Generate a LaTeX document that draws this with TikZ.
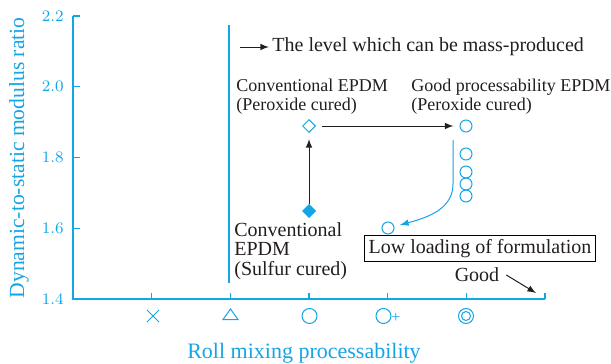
\documentclass[tikz,border=0pt]{standalone}
\usepackage{fontspec}
\setmainfont{Liberation Serif}
\usepackage{xcolor}
\usetikzlibrary{shapes.geometric, arrows.meta, positioning, calc}
\definecolor{azzurro}{RGB}{20,165,230}
\definecolor{testo}{RGB}{35,30,30}

\begin{document}
\begin{tikzpicture}[x=0.5pt, y=-0.5pt, font=\fontsize{10}{9.8}\selectfont, text=testo,
    cerchio/.style={circle, draw=azzurro, line width=0.5pt, minimum size=6pt, inner sep=0pt},
    rombo/.style={diamond, draw=azzurro, line width=0.5pt, minimum size=6.5pt, inner sep=0pt},
    asse/.style={azzurro, line width=0.6pt},
    freccia/.style={-latex, line width=0.5pt, testo}]
    % Parametri
    \pgfmathsetmacro{\ox}{73}
    \pgfmathsetmacro{\oy}{299}
    \pgfmathsetmacro{\dx}{78.67}
    \pgfmathsetmacro{\dy}{70.75}
    \useasboundingbox (0,0) rectangle (611,364);
    % Assi
    \draw[asse] (\ox,16) -- (\ox,\oy) -- (545,\oy);
    \foreach \k in {0,...,4}{
        \pgfmathsetmacro{\yy}{\oy-\k*\dy}
        \pgfmathsetmacro{\val}{1.4+0.2*\k}
        \draw[asse] (\ox,\yy) -- ++(7,0);
        \node[left, azzurro, font=\fontsize{8}{8}\selectfont, inner sep=0pt] at (64,\yy) {\pgfmathprintnumber[fixed, precision=1, fixed zerofill]{\val}};
    }
    \foreach \k in {1,...,6}
        \draw[asse] (\ox+\k*\dx,\oy) -- ++(0,-6);
    \node[rotate=90, azzurro, font=\fontsize{10.8}{11}\selectfont] (ylabel) at (19,158) {Dynamic-to-static modulus ratio};
    \node[azzurro, font=\fontsize{11}{11}\selectfont] (xlabel) at (304,353) {Roll mixing processability};
    % Simboli sull'asse x
    \draw[azzurro, line width=0.5pt] (147,310) -- (159,322) (147,322) -- (159,310);
    \draw[azzurro, line width=0.5pt] (223,319.5) -- (238,319.5) -- (230.5,309) -- cycle;
    \node[cerchio, minimum size=7.5pt] (xo) at (309.5,316) {};
    \node[cerchio, minimum size=7.5pt] (xop) at (383.5,316) {};
    \node[azzurro, inner sep=0pt, font=\fontsize{8}{8}\selectfont] (plus) at (396,318) {+};
    \node[cerchio, minimum size=7.5pt] (xoo) at (466,316) {};
    \node[circle, draw=azzurro, line width=0.5pt, minimum size=4.5pt, inner sep=0pt] at (xoo) {};
    % Linea verticale
    \draw[azzurro, line width=0.6pt] (229,25) -- (229,283);
    % Legenda
    \coordinate (legA) at (240,47);
    \node[right, inner sep=0pt] (legenda) at (272,47) {The level which can be mass-produced};
    \draw[freccia] (legA) -- ($(legenda.west)+(-3,0)$);
    % Punti
    \node[rombo] (convperox) at (309,126) {};
    \node[rombo, fill=azzurro] (convsulf) at (309,211) {};
    \node[cerchio] (goodperox) at (466,126) {};
    \node[cerchio] (good1) at (466,154) {};
    \node[cerchio] (good2) at (466,172) {};
    \node[cerchio] (good3) at (466,184) {};
    \node[cerchio] (good4) at (466,196) {};
    \node[cerchio] (lowload) at (388,228) {};
    % Frecce
    \draw[freccia, shorten >=3pt] (convsulf) -- (convperox);
    \draw[freccia, shorten <=3pt, shorten >=3pt] (convperox) -- (goodperox);
    \coordinate (curvA) at (453,140);
    \draw[azzurro, -latex, line width=0.5pt, shorten >=3pt] (curvA) -- ++(0,44) .. controls (453,208) and (430,217) .. (lowload);
    % Etichette
    \node[anchor=north west, align=left, inner sep=0pt, font=\fontsize{9}{9.2}\selectfont] (lblconvperox) at (236,79) {Conventional EPDM\\(Peroxide cured)};
    \node[anchor=north west, align=left, inner sep=0pt, font=\fontsize{9}{9.2}\selectfont] (lblgoodperox) at (411,79) {Good processability EPDM\\(Peroxide cured)};
    \node[anchor=north west, align=left, inner sep=0pt] (lblconvsulf) at (234,222) {Conventional\\EPDM\\(Sulfur cured)};
    \node[draw, line width=0.5pt, inner sep=2pt] (lbllow) at (480,248.5) {Low loading of formulation};
    \node (lblgood) at (477,275) {Good};
    \coordinate (goodB) at (536,293);
    \draw[freccia] (lblgood.east) -- (goodB);
\end{tikzpicture}
\end{document}
